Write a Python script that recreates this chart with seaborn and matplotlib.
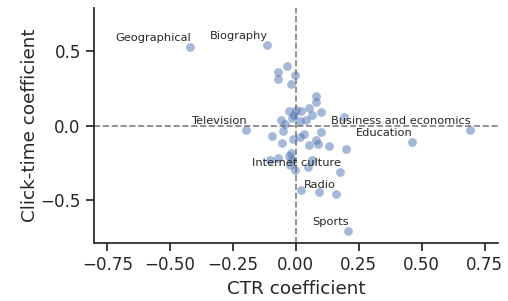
import matplotlib
matplotlib.use("Agg")
import matplotlib.pyplot as plt
import seaborn as sns
import pandas as pd

ctr = [-0.421, -0.115, -0.037, -0.070, -0.072, -0.005, -0.021, 0.078, 0.078, 0.052,
       0.098, -0.027, 0.000, 0.021, 0.065, 0.041, 0.016, -0.017, -0.060, -0.042,
       -0.050, -0.199, -0.097, 0.032, 0.016, -0.011, 0.098, 0.078, 0.089, 0.053,
       0.130, -0.054, -0.020, -0.070, -0.103, 0.062, 0.199, -0.024, -0.004, 0.049,
       0.175, 0.020, 0.093, 0.158, 0.208, 0.192, 0.694, 0.461, -0.008, -0.027,
       -0.017]
click = [0.530, 0.544, 0.400, 0.360, 0.317, 0.338, 0.280, 0.197, 0.161, 0.121,
         0.092, 0.100, 0.107, 0.100, 0.072, 0.040, 0.031, 0.049, 0.040, 0.011,
         -0.038, -0.027, -0.067, -0.054, -0.076, -0.087, -0.042, -0.094, -0.121, -0.128,
         -0.139, -0.116, -0.183, -0.217, -0.228, -0.228, -0.156, -0.262, -0.300, -0.277,
         -0.313, -0.430, -0.448, -0.458, -0.709, 0.056, -0.027, -0.112, 0.074, -0.206,
         -0.233]

label_names = ["Geographical", "Biography", "Television", "Business and economics",
               "Education", "Internet culture", "Radio", "Sports"]
label_idx = [0, 1, 21, 46, 47, 40, 43, 44]

df = pd.DataFrame({"CTR coefficient": ctr, "Click-time coefficient": click})

sns.set_theme(style="ticks", context="notebook", font_scale=1.1)
fig = plt.figure(figsize=(5.08, 3.01), dpi=100)
ax = fig.add_axes([0.185, 0.193, 0.795, 0.78])

ax.axhline(0, color="gray", ls="--", lw=1.2, zorder=0)
ax.axvline(0, color="gray", ls="--", lw=1.2, zorder=0)
sns.scatterplot(data=df, x="CTR coefficient", y="Click-time coefficient",
                ax=ax, color="#4C72B0", alpha=0.5, s=40, linewidth=0)

for name, i in zip(label_names, label_idx):
    ax.annotate(name, (ctr[i], click[i]), xytext=(0.5, 3), textcoords="offset points",
                ha="right", va="bottom", fontsize=8.2, color="#262626")

ax.set_xlim(-0.803, 0.803)
ax.set_ylim(-0.787, 0.79)
ax.set_xticks([-0.75, -0.5, -0.25, 0, 0.25, 0.5, 0.75])
ax.set_yticks([-0.5, 0, 0.5])
ax.set_ylabel("Click-time coefficient", labelpad=1)
sns.despine(ax=ax)

fig.savefig("out.png", dpi=100)
